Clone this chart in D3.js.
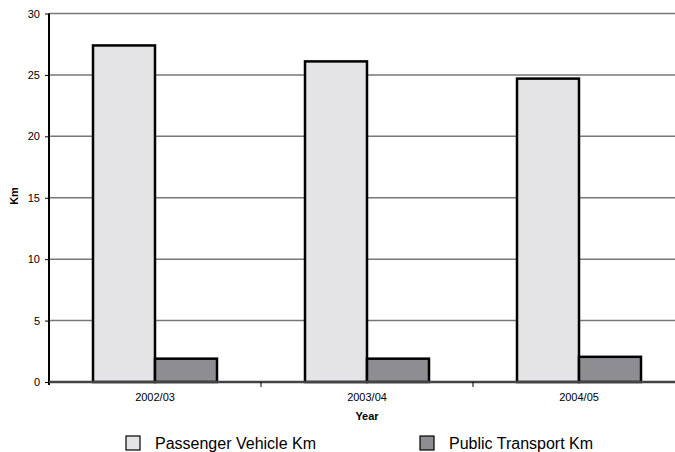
<!DOCTYPE html>
<html><head><meta charset="utf-8">
<script src="https://cdn.jsdelivr.net/npm/d3@7"></script>
<style>body{margin:0;background:#fff}svg{display:block}</style>
</head><body><svg id="c" width="675" height="452" font-family="Arial, 'Liberation Sans', sans-serif"></svg>
<script>
const categories = ["2002/03","2003/04","2004/05"];
const seriesNames = ["Passenger Vehicle Km","Public Transport Km"];
const passenger = [27.4, 26.1, 24.7];
const publicTransport = [1.9, 1.9, 2.05];
const yTicks = [0,5,10,15,20,25,30];
const colors = ["#e4e4e6","#8e8e92"];
const FONT = "Arial, 'Liberation Sans', sans-serif";

const svg = d3.select("#c");
const x0 = d3.scaleBand().domain(categories).range([49,685]);
const x1 = d3.scaleBand().domain(seriesNames).range([0,124]);
const y = d3.scaleLinear().domain([0,30]).range([382,13.5]);

// gridlines
svg.append("g").selectAll("line").data(yTicks.filter(d=>d>0)).join("line")
  .attr("x1",49).attr("x2",685).attr("y1",d=>y(d)).attr("y2",d=>y(d))
  .attr("stroke","#777").attr("stroke-width",1.5);

const series = [passenger, publicTransport];
series.forEach((vals,si)=>{
  svg.append("g").selectAll("rect").data(vals).join("rect")
    .attr("x",(d,i)=>x0(categories[i])+(x0.bandwidth()-124)/2+x1(seriesNames[si]))
    .attr("width",x1.bandwidth())
    .attr("y",d=>y(d)).attr("height",d=>y(0)-y(d))
    .attr("fill",colors[si]).attr("stroke","#000").attr("stroke-width",2.5);
});

// y axis
const ya = svg.append("g").attr("transform","translate(49,0)")
  .call(d3.axisLeft(y).tickValues(yTicks).tickSize(4).tickPadding(5));
ya.attr("font-family",FONT);
ya.select(".domain").attr("stroke","#000").attr("stroke-width",2).attr("d","M0,"+y(30)+"V"+(y(0)+3));
ya.selectAll(".tick line").attr("stroke","#000");
ya.selectAll("text").attr("font-size",11).attr("fill","#000");

// x axis
svg.append("line").attr("x1",49).attr("x2",685).attr("y1",y(0)).attr("y2",y(0))
  .attr("stroke","#444").attr("stroke-width",2.5);
const xa = svg.append("g").attr("transform","translate(0,"+y(0)+")")
  .call(d3.axisBottom(x0).tickSize(0).tickPadding(11));
xa.attr("font-family",FONT);
xa.select(".domain").remove();
xa.selectAll("text").attr("font-size",11).attr("fill","#000");
svg.append("g").selectAll("line").data(categories.slice(1)).join("line")
  .attr("x1",d=>x0(d)).attr("x2",d=>x0(d)).attr("y1",y(0)).attr("y2",y(0)+5)
  .attr("stroke","#000").attr("stroke-width",1);

// axis titles
svg.append("text").attr("x",367).attr("y",420).attr("text-anchor","middle")
  .attr("font-size",11).attr("font-weight","bold").text("Year");
svg.append("text").attr("transform","translate(18,196) rotate(-90)").attr("text-anchor","middle")
  .attr("font-size",11).attr("font-weight","bold").text("Km");

// legend
const legX = [125, 419];
seriesNames.forEach((n,i)=>{
  svg.append("rect").attr("x",legX[i]+1).attr("y",436).attr("width",14).attr("height",14)
    .attr("fill",colors[i]).attr("stroke","#000").attr("stroke-width",1.2);
  svg.append("text").attr("x",legX[i]+30).attr("y",449).attr("font-size",16).text(n);
});
</script></body></html>
